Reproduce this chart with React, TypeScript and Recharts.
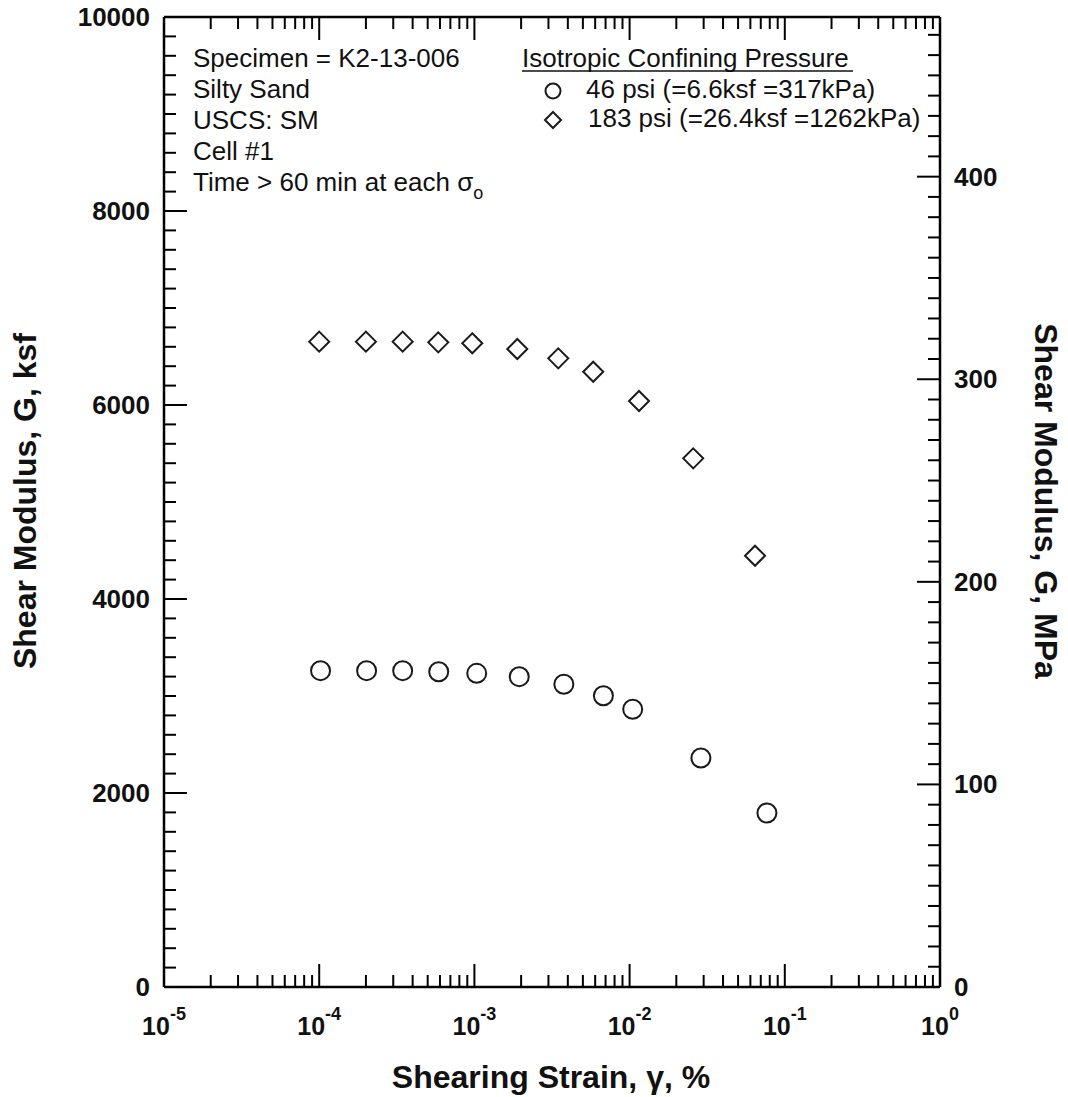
import { ScatterChart, Scatter, XAxis, YAxis } from 'recharts';

// shearing strain (%) and shear modulus (ksf)
const strainLow = [1.02e-4, 2.02e-4, 3.45e-4, 5.89e-4, 1.035e-3, 1.945e-3, 3.77e-3, 6.78e-3, 1.047e-2, 2.88e-2, 7.67e-2];
const modulusLow = [3261, 3261, 3261, 3250, 3234, 3199, 3121, 3003, 2863, 2361, 1794];
const strainHigh = [1.0e-4, 2.0e-4, 3.45e-4, 5.85e-4, 9.69e-4, 1.89e-3, 3.47e-3, 5.83e-3, 1.15e-2, 2.57e-2, 6.43e-2];
const modulusHigh = [6653, 6653, 6653, 6646, 6636, 6577, 6481, 6343, 6041, 5450, 4446];

const seriesNames = ['46 psi (=6.6ksf =317kPa)', '183 psi (=26.4ksf =1262kPa)'];
const legendTitle = 'Isotropic Confining Pressure';
const notes = ['Specimen = K2-13-006', 'Silty Sand', 'USCS: SM', 'Cell #1'];
const timeNote = 'Time > 60 min at each σ';

const decades = [-5, -4, -3, -2, -1];
const KSF_PER_MPA = 20.885;
const KSF_MAX = 10000;

const xTicks: number[] = [];
decades.forEach((d) => {
  for (let m = 1; m <= 9; m++) xTicks.push(m * Math.pow(10, d));
});
xTicks.push(1);

const ksfTicks: number[] = [];
for (let v = 0; v <= KSF_MAX; v += 200) ksfTicks.push(v);
const mpaTicks: number[] = [];
for (let v = 0; v <= 470; v += 10) mpaTicks.push(v);

const lowData = strainLow.map((s, i) => ({ strain: s, g: modulusLow[i] }));
const highData = strainHigh.map((s, i) => ({ strain: s, g: modulusHigh[i] }));

const FONT = '"Liberation Sans", Arial, Helvetica, sans-serif';
const INK = '#111';

const isDecade = (v: number) => {
  const e = Math.log10(v);
  return Math.abs(e - Math.round(e)) < 1e-6;
};

const BottomTick = (props: any) => {
  const { x, y, payload } = props;
  const major = isDecade(payload.value);
  return (
    <g>
      <line x1={x} y1={y} x2={x} y2={y - (major ? 23 : 12)} stroke="#000" strokeWidth={2} />
      {major && (
        <text x={x} y={y + 48} textAnchor="middle" fontFamily={FONT} fontWeight="bold" fontSize={25} fill={INK}>
          10
          <tspan dy={-15} fontSize={18}>{Math.round(Math.log10(payload.value))}</tspan>
        </text>
      )}
    </g>
  );
};

const TopTick = (props: any) => {
  const { x, y, payload } = props;
  const major = isDecade(payload.value);
  return <line x1={x} y1={y} x2={x} y2={y + (major ? 23 : 12)} stroke="#000" strokeWidth={2} />;
};

const LeftTick = (props: any) => {
  const { x, y, payload } = props;
  const major = payload.value % 2000 === 0;
  return (
    <g>
      <line x1={x} y1={y} x2={x + (major ? 23 : 12)} y2={y} stroke="#000" strokeWidth={2} />
      {major && (
        <text x={x - 14} y={y + 9} textAnchor="end" fontFamily={FONT} fontWeight="bold" fontSize={26} fill={INK}>
          {payload.value}
        </text>
      )}
    </g>
  );
};

const RightTick = (props: any) => {
  const { x, y, payload } = props;
  const major = payload.value % 100 === 0;
  return (
    <g>
      <line x1={x} y1={y} x2={x - (major ? 23 : 12)} y2={y} stroke="#000" strokeWidth={2} />
      {major && (
        <text x={x + 14} y={y + 9} textAnchor="start" fontFamily={FONT} fontWeight="bold" fontSize={26} fill={INK}>
          {payload.value}
        </text>
      )}
    </g>
  );
};

const Ring = (p: any) => (
  <circle cx={p.cx} cy={p.cy} r={p.r ?? 9.5} fill="none" stroke="#1a1a1a" strokeWidth={2} />
);

const Diamond = (p: any) => {
  const { cx, cy } = p;
  const h = p.h ?? 10;
  return (
    <polygon
      points={`${cx},${cy - h} ${cx + h},${cy} ${cx},${cy + h} ${cx - h},${cy}`}
      fill="none"
      stroke="#1a1a1a"
      strokeWidth={2}
    />
  );
};

const axisLine = { stroke: '#000', strokeWidth: 2.5 };

export default function App() {
  return (
    <div style={{ position: 'absolute', left: 0, top: 0, background: '#fff' }}>
      <ScatterChart width={1068} height={1097} margin={{ top: 16, right: 0, bottom: 0, left: 0 }}>
        <XAxis
          xAxisId="b"
          dataKey="strain"
          type="number"
          scale="log"
          domain={[1e-5, 1]}
          allowDataOverflow
          ticks={xTicks}
          interval={0}
          height={110}
          tickSize={0}
          tickMargin={0}
          tickLine={false}
          axisLine={axisLine}
          tick={<BottomTick />}
        />
        <XAxis
          xAxisId="t"
          orientation="top"
          dataKey="strain"
          type="number"
          scale="log"
          domain={[1e-5, 1]}
          allowDataOverflow
          ticks={xTicks}
          interval={0}
          height={1}
          tickSize={0}
          tickMargin={0}
          tickLine={false}
          axisLine={axisLine}
          tick={<TopTick />}
        />
        <YAxis
          yAxisId="ksf"
          dataKey="g"
          type="number"
          domain={[0, KSF_MAX]}
          allowDataOverflow
          ticks={ksfTicks}
          interval={0}
          width={164}
          tickSize={0}
          tickMargin={0}
          tickLine={false}
          axisLine={axisLine}
          tick={<LeftTick />}
        />
        <YAxis
          yAxisId="mpa"
          orientation="right"
          type="number"
          domain={[0, KSF_MAX / KSF_PER_MPA]}
          allowDataOverflow
          ticks={mpaTicks}
          interval={0}
          width={128}
          tickSize={0}
          tickMargin={0}
          tickLine={false}
          axisLine={axisLine}
          tick={<RightTick />}
        />
        <Scatter
          name={seriesNames[0]}
          data={lowData}
          xAxisId="b"
          yAxisId="ksf"
          shape={<Ring />}
          isAnimationActive={false}
        />
        <Scatter
          name={seriesNames[1]}
          data={highData}
          xAxisId="b"
          yAxisId="ksf"
          shape={<Diamond />}
          isAnimationActive={false}
        />

        {/* axis titles */}
        <text
          transform="translate(36,501) rotate(-90)"
          textAnchor="middle"
          fontFamily={FONT}
          fontWeight="bold"
          fontSize={32}
          fill={INK}
        >
          Shear Modulus, G, ksf
        </text>
        <text
          transform="translate(1035,501) rotate(90)"
          textAnchor="middle"
          fontFamily={FONT}
          fontWeight="bold"
          fontSize={32}
          fill={INK}
        >
          Shear Modulus, G, MPa
        </text>
        <text x={551} y={1088} textAnchor="middle" fontFamily={FONT} fontWeight="bold" fontSize={32} fill={INK}>
          Shearing Strain, γ, %
        </text>

        {/* specimen notes */}
        <g fontFamily={FONT} fontSize={26} fill={INK}>
          {notes.map((t, i) => (
            <text key={t} x={193} y={67 + i * 31}>
              {t}
            </text>
          ))}
          <text x={193} y={191}>
            {timeNote}
            <tspan dy={8} fontSize={18}>o</tspan>
          </text>
        </g>

        {/* legend */}
        <g fontFamily={FONT} fontSize={26} fill={INK}>
          <text x={522} y={67}>{legendTitle}</text>
          <line x1={522} y1={71} x2={853} y2={71} stroke={INK} strokeWidth={1.5} />
          <Ring cx={553} cy={91} r={7.5} />
          <text x={586} y={98}>{seriesNames[0]}</text>
          <Diamond cx={553} cy={120} h={8} />
          <text x={588} y={127}>{seriesNames[1]}</text>
        </g>
      </ScatterChart>
    </div>
  );
}
